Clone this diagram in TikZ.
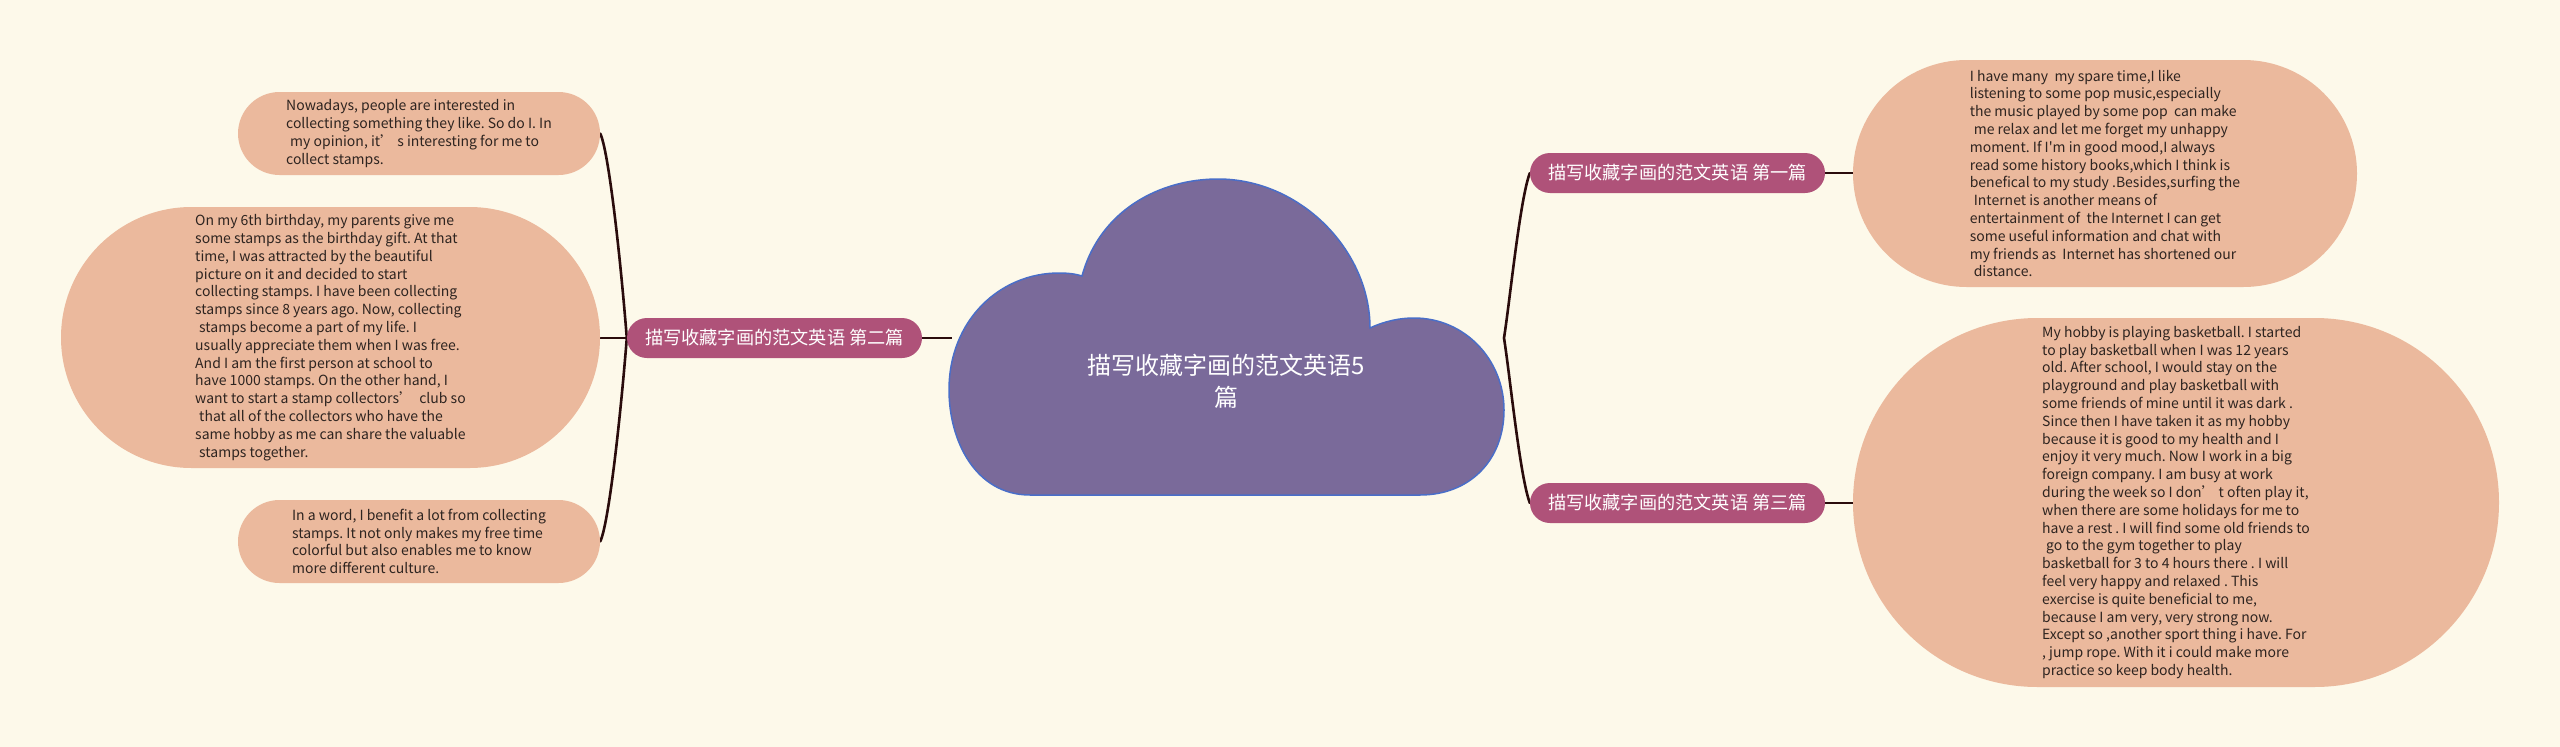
\documentclass[tikz,border=0pt]{standalone}
\usepackage{fontspec}
\setmainfont{Noto Sans CJK SC}
\newfontfamily\rawfont{Noto Sans CJK SC}
\usetikzlibrary{shapes.misc}
\definecolor{bgcol}{HTML}{FDF9EA}
\definecolor{leafcol}{HTML}{EBB99D}
\definecolor{branchcol}{HTML}{AF5279}
\definecolor{cloudfill}{HTML}{7A6A9A}
\definecolor{cloudedge}{HTML}{4A6EC8}
\definecolor{linkcol}{HTML}{2A0C0C}
\definecolor{inkcol}{HTML}{2E2420}
\pgfdeclarelayer{back}
\pgfsetlayers{back,main}
\frenchspacing
\begin{document}
\begin{tikzpicture}[x=1pt,y=-1pt,
 leafbox/.style={rounded rectangle, fill=leafcol, inner sep=0pt, align=left, text=inkcol, font=\fontsize{14}{17.8}\selectfont},
 branchbox/.style={rounded rectangle, fill=branchcol, text=white, minimum width=295pt, minimum height=40pt, inner sep=0pt, font=\fontsize{18.2}{22}\selectfont},
 linkline/.style={draw=linkcol, line width=2.8pt},
 curveline/.style={draw=linkcol, line width=2.6pt, line cap=round}]
\useasboundingbox (0,0) rectangle (2560,747);
\begin{pgfonlayer}{back}
\fill[bgcol] (0,0) rectangle (2560,747);
\end{pgfonlayer}

% cloud
\draw[fill=cloudfill, draw=cloudedge, line width=1.5pt]
 (1030,495) .. controls (975,495) and (949,440) .. (949,390)
 .. controls (949,320) and (1000,273) .. (1059,273)
 .. controls (1068,273) and (1076,274) .. (1082,276)
 .. controls (1100,210) and (1160,179) .. (1218,179)
 .. controls (1300,179) and (1370,250) .. (1370,328)
 .. controls (1385,321) and (1400,318) .. (1414,318)
 .. controls (1465,318) and (1504,360) .. (1504,410)
 .. controls (1504,460) and (1470,495) .. (1420,495) -- cycle;
\node[text=white, align=center, font=\fontsize{24}{32}\selectfont] (root) at (1226,381) {描写收藏字画的范文英语5\\篇};
\coordinate (cL) at (952,338);
\coordinate (cR) at (1504,338);

% branches
\node[branchbox] (b2) at (774.5,338) {描写收藏字画的范文英语 第二篇};
\node[branchbox] (b1) at (1677.5,173) {描写收藏字画的范文英语 第一篇};
\node[branchbox] (b3) at (1677.5,503) {描写收藏字画的范文英语 第三篇};

% leaves
\node[leafbox, minimum width=362pt, minimum height=83pt] (lt) at (419,133.5) {Nowadays, people are interested in\\collecting something they like. So do I. In\\\hspace*{4pt}my opinion, it’ s interesting for me to\\collect stamps.};
\node[leafbox, minimum width=539pt, minimum height=261pt] (lm) at (330.5,337.5) {On my 6th birthday, my parents give me\\some stamps as the birthday gift. At that\\time, I was attracted by the beautiful\\picture on it and decided to start\\collecting stamps. I have been collecting\\stamps since 8 years ago. Now, collecting\\\hspace*{4pt}stamps become a part of my life. I\\usually appreciate them when I was free.\\And I am the first person at school to\\have 1000 stamps. On the other hand, I\\want to start a stamp collectors’ \ club so\\\hspace*{4pt}that all of the collectors who have the\\same hobby as me can share the valuable\\\hspace*{4pt}stamps together.};
\node[leafbox, minimum width=362pt, minimum height=83pt] (lb) at (419,541.5) {In a word, I benefit a lot from collecting\\stamps. It not only makes my free time\\colorful but also enables me to know\\more different culture.};
\node[leafbox, minimum width=504pt, minimum height=227pt] (rt) at (2105,173.5) {I have many \ my spare time,I like\\listening to some pop music,especially\\the music played by some pop \ can make\\\hspace*{4pt}me relax and let me forget my unhappy\\moment. If {\rawfont I'm} in good mood,I always\\read some history books,which I think is\\benefical to my study .Besides,surfing the\\\hspace*{4pt}Internet is another means of\\entertainment of \ the Internet I can get\\some useful information and chat with\\my friends as \ Internet has shortened our\\\hspace*{4pt}distance.};
\node[leafbox, minimum width=646pt, minimum height=369pt] (rb) at (2176,502.5) {My hobby is playing basketball. I started\\to play basketball when I was 12 years\\old. After school, I would stay on the\\playground and play basketball with\\some friends of mine until it was dark .\\Since then I have taken it as my hobby\\because it is good to my health and I\\enjoy it very much. Now I work in a big\\foreign company. I am busy at work\\during the week so I don’ t often play it,\\when there are some holidays for me to\\have a rest . I will find some old friends to\\\hspace*{4pt}go to the gym together to play\\basketball for 3 to 4 hours there . I will\\feel very happy and relaxed . This\\exercise is quite beneficial to me,\\because I am very, very strong now.\\Except so ,another sport thing i have. For\\, jump rope. With it i could make more\\practice so keep body health.};

% connectors
\begin{pgfonlayer}{back}
\draw[linkline] (b2.east) -- (cL);
\draw[linkline] (b2.west) -- (b2.west -| lm.east);
\draw[curveline] (b2.west) .. controls +(-7,-88) and +(8,16) .. (lt.east);
\draw[curveline] (b2.west) .. controls +(-7,88) and +(8,-16) .. (lb.east);
\draw[curveline] (cR) .. controls +(6,-38) and +(-10,27) .. (b1.west);
\draw[curveline] (cR) .. controls +(6,38) and +(-10,-27) .. (b3.west);
\draw[linkline] (b1.east) -- (b1.east -| rt.west);
\draw[linkline] (b3.east) -- (b3.east -| rb.west);
\end{pgfonlayer}
\end{tikzpicture}
\end{document}
